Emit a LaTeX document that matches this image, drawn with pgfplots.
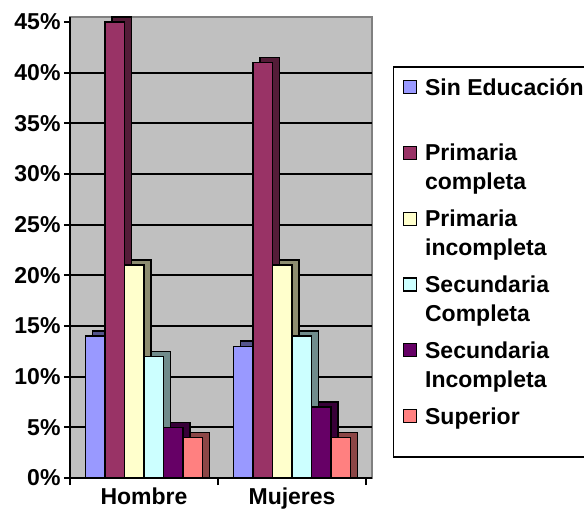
\documentclass[border=0pt]{standalone}
\usepackage{fontspec}
\setmainfont{Liberation Sans}
\usepackage{pgfplots}
\pgfplotsset{compat=1.18}

\definecolor{cSin}{HTML}{9999FF}
\definecolor{cPrc}{HTML}{993366}
\definecolor{cPri}{HTML}{FFFFCC}
\definecolor{cSec}{HTML}{CCFFFF}
\definecolor{cSei}{HTML}{660066}
\definecolor{cSup}{HTML}{FF8080}
\definecolor{wall}{HTML}{C0C0C0}
\definecolor{wallline}{HTML}{808080}

% one series: the dark depth box first, then the front face
\newcommand\serie[3]{%
  \addplot[forget plot, fill=#1!55!black, draw=black, line width=1.5pt,
    bar shift=#2pt+7pt] coordinates {#3};
}
% legend lines: first line of an entry, and the second one (deeper gap after)
\newcommand\la[1]{\rule[-8.7pt]{0pt}{29pt}#1}
\newcommand\lb[1]{\rule[-16.5pt]{0pt}{36.8pt}#1}

\begin{document}
\begin{tikzpicture}
\begin{axis}[
  scale only axis,
  width=302pt, height=461pt,
  xmin=0, xmax=2.04, ymin=0, ymax=45.5,
  ybar, bar width=19.5pt,
  axis background/.style={fill=wall, draw=wallline, line width=1.5pt},
  axis x line*=bottom, axis y line*=left,
  axis line style={black, line width=2pt},
  tick align=outside,
  major tick length=6pt, minor tick length=7pt,
  tick style={black, line width=2pt},
  ytick={0,5,...,40}, extra y ticks={45},
  extra y tick style={grid=none},
  ymajorgrids, grid style={black, line width=1.8pt},
  yticklabel={\pgfmathprintnumber[assume math mode=true]{\tick}\%},
  xtick={0.5,1.5}, xticklabels={Hombre,Mujeres},
  major x tick style={draw=none},
  minor xtick={0,1,2},
  ticklabel style={font=\fontsize{23}{27}\selectfont\bfseries},
  legend style={at={(1.0695,0.8937)}, anchor=north west,
    draw=black, line width=1.5pt, fill=white,
    font=\fontsize{23}{29}\selectfont\bfseries,
    row sep=0pt, column sep=0pt, inner xsep=9pt, inner ysep=2pt,
    cells={anchor=base west},
    nodes={inner sep=0pt, text depth=, text height=}},
  legend image code/.code={\draw[#1, line width=1.3pt] (0pt,1.5pt) rectangle (13pt,14.5pt); \path (21pt,0pt);},
]
\serie{cSin}{-48.75}{(0.5,14.5) (1.5,13.5)}
\addplot[fill=cSin, draw=black, line width=1.5pt, bar shift=-48.75pt] coordinates {(0.5,14) (1.5,13)};
\addlegendimage{empty legend}
\serie{cPrc}{-29.25}{(0.5,45.5) (1.5,41.5)}
\addplot[fill=cPrc, draw=black, line width=1.5pt, bar shift=-29.25pt] coordinates {(0.5,45) (1.5,41)};
\addlegendimage{empty legend}
\serie{cPri}{-9.75}{(0.5,21.5) (1.5,21.5)}
\addplot[fill=cPri, draw=black, line width=1.5pt, bar shift=-9.75pt] coordinates {(0.5,21) (1.5,21)};
\addlegendimage{empty legend}
\serie{cSec}{9.75}{(0.5,12.5) (1.5,14.5)}
\addplot[fill=cSec, draw=black, line width=1.5pt, bar shift=9.75pt] coordinates {(0.5,12) (1.5,14)};
\addlegendimage{empty legend}
\serie{cSei}{29.25}{(0.5,5.5) (1.5,7.5)}
\addplot[fill=cSei, draw=black, line width=1.5pt, bar shift=29.25pt] coordinates {(0.5,5) (1.5,7)};
\addlegendimage{empty legend}
\serie{cSup}{48.75}{(0.5,4.5) (1.5,4.5)}
\addplot[fill=cSup, draw=black, line width=1.5pt, bar shift=48.75pt] coordinates {(0.5,4) (1.5,4)};
\addlegendimage{empty legend}
\addlegendentry{\rule[-8.7pt]{0pt}{35pt}Sin Educación}
\addlegendentry{\lb{}}
\addlegendentry{\la{Primaria}}
\addlegendentry{\lb{completa}}
\addlegendentry{\la{Primaria}}
\addlegendentry{\lb{incompleta}}
\addlegendentry{\la{Secundaria}}
\addlegendentry{\lb{Completa}}
\addlegendentry{\la{Secundaria}}
\addlegendentry{\lb{Incompleta}}
\addlegendentry{\la{Superior}}
\addlegendentry{\rule[-22pt]{0pt}{20pt}}
\end{axis}
\pgfresetboundingbox
\useasboundingbox (-70pt,-34pt) rectangle (514pt,478pt);
\end{tikzpicture}
\end{document}
